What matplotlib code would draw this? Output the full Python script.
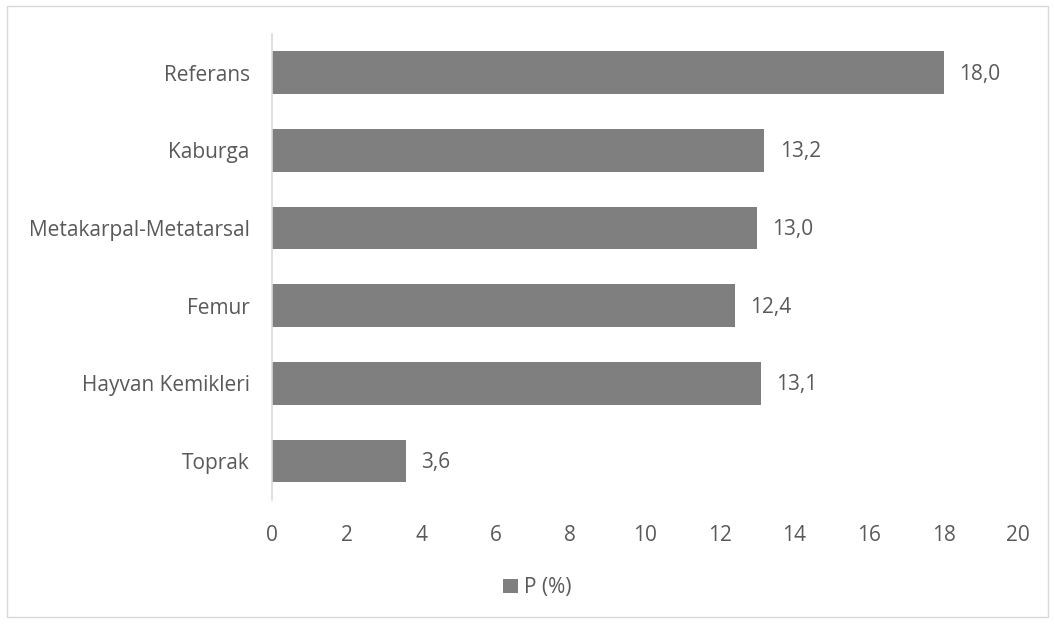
import matplotlib.pyplot as plt
from matplotlib.patches import Rectangle

# data (top to bottom as in the chart)
categories = ['Referans', 'Kaburga', 'Metakarpal-Metatarsal', 'Femur', 'Hayvan Kemikleri', 'Toprak']
values = [18.0, 13.2, 13.0, 12.4, 13.1, 3.6]
x_ticks = [0, 2, 4, 6, 8, 10, 12, 14, 16, 18, 20]
series_name = 'P (%)'

bar_color = '#7f7f7f'
text_color = '#595959'
fsize = 15

plt.rcParams['font.family'] = ['Open Sans', 'DejaVu Sans']

fig = plt.figure(figsize=(10.54, 6.24), dpi=100)
ax = fig.add_axes([0.258, 0.199, 0.708, 0.7465])

# reverse so first category sits on top
ypos = list(range(len(categories)))[::-1]
bars = ax.barh(ypos, values, height=0.55, color=bar_color, label=series_name)

for y, v in zip(ypos, values):
    ax.annotate(f'{v:.1f}'.replace('.', ','), xy=(v, y), xytext=(11, -1),
                textcoords='offset points', va='center', ha='left',
                fontsize=fsize, color=text_color)

ax.set_xlim(0, 20)
ax.set_ylim(-0.5, len(categories) - 0.5)
ax.set_xticks(x_ticks)
ax.set_yticks(ypos)
ax.set_yticklabels(categories)
ax.tick_params(axis='both', length=0, labelsize=fsize, labelcolor=text_color)
ax.tick_params(axis='x', pad=18)
ax.tick_params(axis='y', pad=16)

for s in ['top', 'right', 'bottom']:
    ax.spines[s].set_visible(False)
ax.spines['left'].set_color('#d9d9d9')
ax.spines['left'].set_linewidth(1.2)

leg = fig.legend(handles=[bars], labels=[series_name], loc='center',
                 bbox_to_anchor=(0.51, 0.058), frameon=False, fontsize=fsize,
                 handlelength=0.7, handleheight=0.7, handletextpad=0.3)
for t in leg.get_texts():
    t.set_color(text_color)

# outer chart border
fig.patches.append(Rectangle((0.007, 0.011), 0.987, 0.98, transform=fig.transFigure,
                             fill=False, edgecolor='#d9d9d9', linewidth=1))

fig.savefig('out.png', dpi=100)
